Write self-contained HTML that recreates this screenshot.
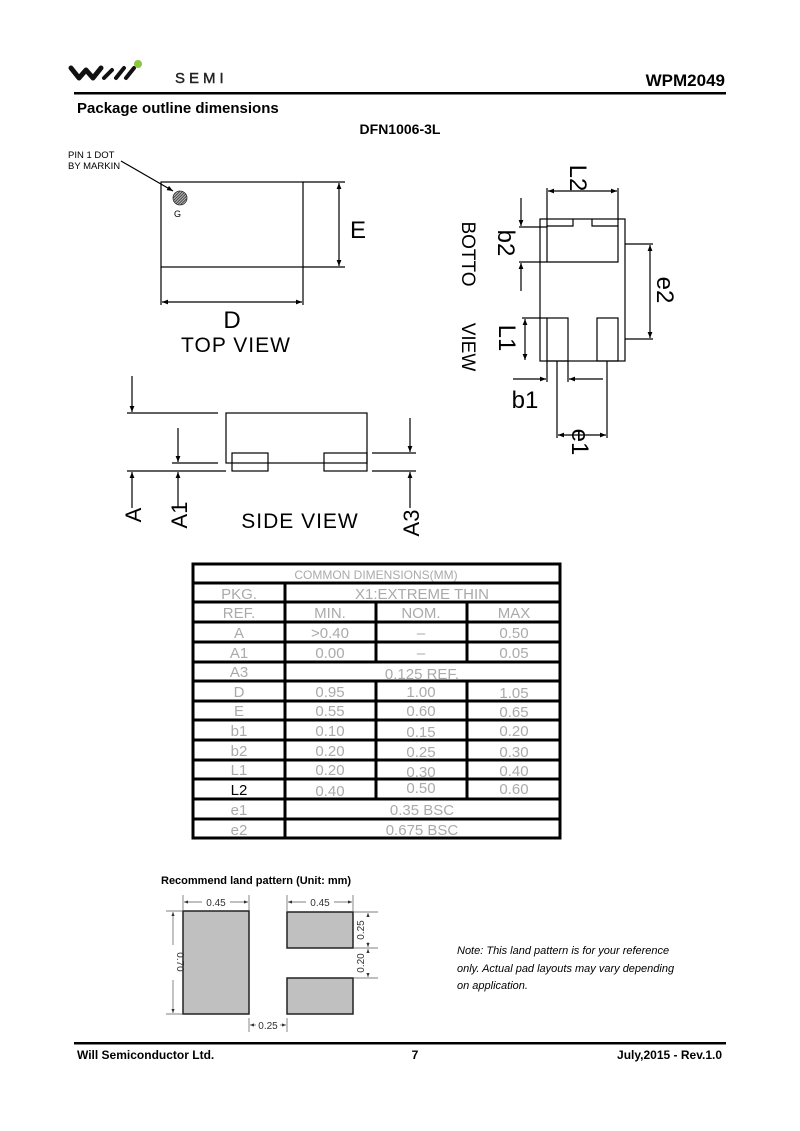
<!DOCTYPE html>
<html><head><meta charset="utf-8"><style>
html,body{margin:0;padding:0;background:#fff;}
svg{display:block}
text{font-family:"Liberation Sans",sans-serif;}
.c{font-family:"DejaVu Sans","Liberation Sans",sans-serif;font-weight:200;}
.t{font-family:"DejaVu Sans",sans-serif;font-weight:200;fill:#aaa;font-size:15px;}
</style></head><body>
<svg width="800" height="1131" viewBox="0 0 800 1131" xmlns="http://www.w3.org/2000/svg">
<defs>
<marker id="ar" viewBox="0 0 10 10" refX="10" refY="5" markerWidth="10" markerHeight="6" orient="auto-start-reverse" markerUnits="userSpaceOnUse"><path d="M0,1 L10,5 L0,9z" fill="#000"/></marker>
<marker id="as" viewBox="0 0 10 10" refX="10" refY="5" markerWidth="5" markerHeight="4" orient="auto-start-reverse" markerUnits="userSpaceOnUse"><path d="M0,1 L10,5 L0,9z" fill="#333"/></marker>
<pattern id="h" width="2" height="2" patternUnits="userSpaceOnUse" patternTransform="rotate(45)"><rect width="2" height="2" fill="#bbb"/><rect width="1" height="2" fill="#444"/></pattern>
</defs>
<!-- header -->
<path d="M71,68 L79,78 L86,70 L93,78 L101,68" fill="none" stroke="#111" stroke-width="5" stroke-linejoin="round" stroke-linecap="round"/>
<path d="M104,78 L112,70 M116,78 L124,68 M126,78 L134,68" stroke="#111" stroke-width="4" stroke-linecap="round"/>
<circle cx="138" cy="64" r="4" fill="#8dc63f"/>
<text x="175" y="83" font-size="15" letter-spacing="4" fill="#222" stroke="#222" stroke-width="0.4">SEMI</text>
<text x="725" y="86" font-size="17" font-weight="bold" text-anchor="end">WPM2049</text>
<rect x="74" y="92" width="652" height="2.5" fill="#000"/>
<text x="77" y="113" font-size="15" font-weight="bold">Package outline dimensions</text>
<text x="400" y="134" font-size="14" font-weight="bold" text-anchor="middle">DFN1006-3L</text>

<g stroke="#000" stroke-width="1.2" fill="none">
<!-- top view -->
<rect x="161" y="182" width="142" height="85"/>
<line x1="303" y1="182" x2="345" y2="182"/><line x1="303" y1="267" x2="345" y2="267"/>
<line x1="339" y1="183" x2="339" y2="266" marker-start="url(#ar)" marker-end="url(#ar)"/>
<line x1="161" y1="267" x2="161" y2="305"/><line x1="303" y1="267" x2="303" y2="305"/>
<line x1="162" y1="302" x2="302" y2="302" marker-start="url(#ar)" marker-end="url(#ar)"/>
<line x1="121" y1="161" x2="173" y2="191" marker-end="url(#ar)"/>
<!-- side view -->
<rect x="226" y="413" width="141" height="50"/>
<rect x="232" y="453" width="36" height="18"/>
<rect x="324" y="453" width="43" height="18"/>
<line x1="127" y1="413" x2="218" y2="413"/>
<line x1="172" y1="463" x2="218" y2="463"/>
<line x1="127" y1="471" x2="226" y2="471"/>
<line x1="372" y1="471" x2="416" y2="471"/>
<line x1="372" y1="453" x2="416" y2="453"/>
<line x1="132" y1="376" x2="132" y2="412" marker-end="url(#ar)"/>
<line x1="132" y1="508" x2="132" y2="472" marker-end="url(#ar)"/>
<line x1="178" y1="428" x2="178" y2="462" marker-end="url(#ar)"/>
<line x1="178" y1="508" x2="178" y2="472" marker-end="url(#ar)"/>
<line x1="410" y1="418" x2="410" y2="452" marker-end="url(#ar)"/>
<line x1="410" y1="508" x2="410" y2="472" marker-end="url(#ar)"/>
<!-- bottom view -->
<rect x="540" y="219" width="85" height="142"/>
<path d="M573,219 L573,226 L547,226 L547,262 L618,262 L618,226 L592,226 L592,219"/>
<rect x="547" y="318" width="21" height="43"/>
<rect x="597" y="318" width="21" height="43"/>
<line x1="547" y1="188" x2="547" y2="226"/><line x1="618" y1="188" x2="618" y2="226"/>
<line x1="548" y1="191" x2="617" y2="191" marker-start="url(#ar)" marker-end="url(#ar)"/>
<line x1="519" y1="227" x2="547" y2="227"/><line x1="519" y1="262" x2="547" y2="262"/>
<line x1="521" y1="198" x2="521" y2="226" marker-end="url(#ar)"/>
<line x1="521" y1="291" x2="521" y2="263" marker-end="url(#ar)"/>
<line x1="625" y1="244" x2="653" y2="244"/><line x1="625" y1="339" x2="653" y2="339"/>
<line x1="650" y1="245" x2="650" y2="338" marker-start="url(#ar)" marker-end="url(#ar)"/>
<line x1="522" y1="318" x2="547" y2="318"/>
<line x1="525" y1="319" x2="525" y2="360" marker-start="url(#ar)" marker-end="url(#ar)"/>
<line x1="547" y1="361" x2="547" y2="382"/><line x1="568" y1="361" x2="568" y2="382"/>
<line x1="513" y1="379" x2="546" y2="379" marker-end="url(#ar)"/>
<line x1="603" y1="379" x2="569" y2="379" marker-end="url(#ar)"/>
<line x1="557" y1="361" x2="557" y2="438"/><line x1="607" y1="361" x2="607" y2="438"/>
<line x1="558" y1="435" x2="606" y2="435" marker-start="url(#ar)" marker-end="url(#ar)"/>
</g>
<circle cx="180" cy="198" r="7" fill="url(#h)" stroke="#333" stroke-width="0.8"/>
<text x="174" y="217" font-size="9">G</text>
<text x="68" y="158" font-size="9.5">PIN 1 DOT</text>
<text x="68" y="169" font-size="9.5">BY MARKIN</text>
<g class="c" font-size="24">
<text x="350" y="238">E</text>
<text x="232" y="328" text-anchor="middle">D</text>
<text x="236" y="352" text-anchor="middle" font-size="21" letter-spacing="1">TOP  VIEW</text>
<text x="300" y="528" text-anchor="middle" font-size="21" letter-spacing="1">SIDE  VIEW</text>
<text transform="translate(141,515) rotate(-90)" text-anchor="middle" font-size="22">A</text>
<text transform="translate(187,515) rotate(-90)" text-anchor="middle" font-size="22">A1</text>
<text transform="translate(419,523) rotate(-90)" text-anchor="middle" font-size="22">A3</text>
<text transform="translate(570,178) rotate(90)" text-anchor="middle">L2</text>
<text transform="translate(498,243) rotate(90)" text-anchor="middle">b2</text>
<text transform="translate(657,290) rotate(90)" text-anchor="middle">e2</text>
<text transform="translate(499,338) rotate(90)" text-anchor="middle">L1</text>
<text transform="translate(572,442) rotate(90)" text-anchor="middle">e1</text>
<text x="525" y="408" text-anchor="middle">b1</text>
<text transform="translate(462,254) rotate(90)" text-anchor="middle" font-size="19">BOTTO</text>
<text transform="translate(462,347) rotate(90)" text-anchor="middle" font-size="19">VIEW</text>
</g>

<!-- table -->
<g stroke="#000" stroke-width="3" fill="none">
<rect x="193" y="564" width="367" height="274"/>
<line x1="193" y1="583" x2="560" y2="583"/><line x1="193" y1="602" x2="560" y2="602"/>
<line x1="193" y1="622" x2="560" y2="622"/><line x1="193" y1="642" x2="560" y2="642"/>
<line x1="193" y1="662" x2="560" y2="662"/><line x1="193" y1="681" x2="560" y2="681"/>
<line x1="193" y1="701" x2="560" y2="701"/><line x1="193" y1="720" x2="560" y2="720"/>
<line x1="193" y1="740" x2="560" y2="740"/><line x1="193" y1="760" x2="560" y2="760"/>
<line x1="193" y1="779" x2="560" y2="779"/><line x1="193" y1="799" x2="560" y2="799"/>
<line x1="193" y1="819" x2="560" y2="819"/>
<line x1="285" y1="583" x2="285" y2="838"/>
<line x1="376" y1="602" x2="376" y2="662"/><line x1="467" y1="602" x2="467" y2="662"/>
<line x1="376" y1="681" x2="376" y2="799"/><line x1="467" y1="681" x2="467" y2="799"/>
</g>
<g class="t" text-anchor="middle">
<text x="376" y="579" font-size="12">COMMON  DIMENSIONS(MM)</text>
<text x="239" y="599">PKG.</text><text x="422" y="599">X1:EXTREME  THIN</text>
<text x="239" y="618">REF.</text><text x="330" y="618">MIN.</text><text x="421" y="618">NOM.</text><text x="514" y="618">MAX</text>
<text x="239" y="638">A</text><text x="330" y="638">&gt;0.40</text><text x="421" y="638">–</text><text x="514" y="638">0.50</text>
<text x="239" y="658">A1</text><text x="330" y="658">0.00</text><text x="421" y="658">–</text><text x="514" y="658">0.05</text>
<text x="239" y="677">A3</text><text x="422" y="679">0.125  REF.</text>
<text x="239" y="697">D</text><text x="330" y="697">0.95</text><text x="421" y="697">1.00</text><text x="514" y="698">1.05</text>
<text x="239" y="716">E</text><text x="330" y="716">0.55</text><text x="421" y="716">0.60</text><text x="514" y="717">0.65</text>
<text x="239" y="736">b1</text><text x="330" y="736">0.10</text><text x="421" y="737">0.15</text><text x="514" y="736">0.20</text>
<text x="239" y="756">b2</text><text x="330" y="756">0.20</text><text x="421" y="757">0.25</text><text x="514" y="757">0.30</text>
<text x="239" y="775">L1</text><text x="330" y="775">0.20</text><text x="421" y="777">0.30</text><text x="514" y="776">0.40</text>
<text x="239" y="795" fill="#000">L2</text><text x="330" y="796">0.40</text><text x="421" y="793">0.50</text><text x="514" y="794">0.60</text>
<text x="239" y="815">e1</text><text x="422" y="815">0.35  BSC</text>
<text x="239" y="835">e2</text><text x="422" y="835">0.675  BSC</text>
</g>

<!-- land pattern -->
<text x="161" y="884" font-size="11" font-weight="bold">Recommend land pattern (Unit: mm)</text>
<g fill="#c0c0c0" stroke="#222" stroke-width="1.5">
<rect x="183" y="911" width="66" height="103"/>
<rect x="287" y="912" width="66" height="36"/>
<rect x="287" y="978" width="66" height="36"/>
</g>
<g stroke="#555" stroke-width="0.7" fill="none">
<line x1="183" y1="895" x2="183" y2="911"/><line x1="249" y1="895" x2="249" y2="911"/>
<line x1="184" y1="902" x2="202" y2="902" marker-start="url(#as)"/><line x1="230" y1="902" x2="248" y2="902" marker-end="url(#as)"/>
<line x1="287" y1="895" x2="287" y2="911"/><line x1="353" y1="895" x2="353" y2="911"/>
<line x1="288" y1="902" x2="306" y2="902" marker-start="url(#as)"/><line x1="334" y1="902" x2="352" y2="902" marker-end="url(#as)"/>
<line x1="166" y1="911" x2="183" y2="911"/><line x1="166" y1="1014" x2="183" y2="1014"/>
<line x1="173" y1="912" x2="173" y2="945" marker-start="url(#as)"/><line x1="173" y1="980" x2="173" y2="1013" marker-end="url(#as)"/>
<line x1="353" y1="912" x2="378" y2="912"/><line x1="353" y1="948" x2="378" y2="948"/><line x1="353" y1="978" x2="378" y2="978"/>
<line x1="368" y1="913" x2="368" y2="917" marker-start="url(#as)"/><line x1="368" y1="942" x2="368" y2="947" marker-end="url(#as)"/>
<line x1="368" y1="949" x2="368" y2="951" marker-start="url(#as)"/><line x1="368" y1="975" x2="368" y2="977" marker-end="url(#as)"/>
<line x1="249" y1="1018" x2="249" y2="1032"/><line x1="287" y1="1018" x2="287" y2="1032"/>
<line x1="250" y1="1025" x2="256" y2="1025" marker-start="url(#as)"/><line x1="280" y1="1025" x2="286" y2="1025" marker-end="url(#as)"/>
</g>
<g font-size="10" fill="#333" text-anchor="middle">
<text x="216" y="906">0.45</text><text x="320" y="906">0.45</text>
<text x="268" y="1029">0.25</text>
<text transform="translate(177,962) rotate(90)">0.70</text>
<text transform="translate(364,930) rotate(-90)">0.25</text>
<text transform="translate(364,963) rotate(-90)">0.20</text>
</g>
<g font-size="11" font-style="italic">
<text x="457" y="954">Note: This land pattern is for your reference</text>
<text x="457" y="972">only. Actual pad layouts may vary depending</text>
<text x="457" y="989">on application.</text>
</g>

<!-- footer -->
<rect x="74" y="1042" width="652" height="2.5" fill="#000"/>
<g font-size="12" font-weight="bold">
<text x="77" y="1059">Will Semiconductor Ltd.</text>
<text x="415" y="1059" text-anchor="middle">7</text>
<text x="722" y="1059" text-anchor="end">July,2015 - Rev.1.0</text>
</g>
</svg>
</body></html>
